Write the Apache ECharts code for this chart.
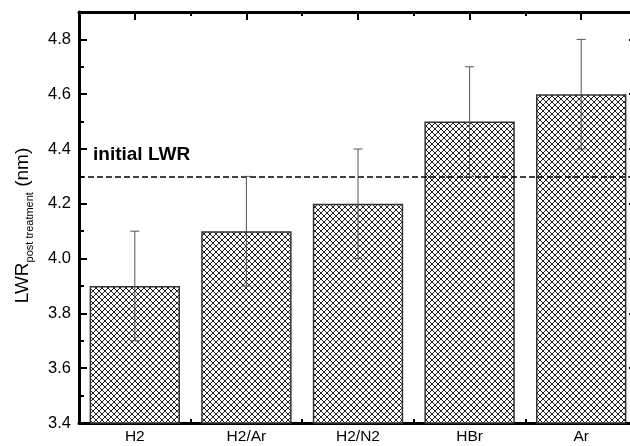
<!DOCTYPE html>
<html>
<head>
<meta charset="utf-8">
<script src="https://cdn.jsdelivr.net/npm/echarts@6/dist/echarts.min.js"></script>
<style>
  html, body { margin: 0; padding: 0; overflow: hidden; background: #fff; }
  #chart { width: 640px; height: 446px; }
</style>
</head>
<body>
<div id="chart"></div>
<script>
const categories = ["H2", "H2/Ar", "H2/N2", "HBr", "Ar"];
const lwrValues = [3.9, 4.1, 4.2, 4.5, 4.6];
const lwrErrors = [0.2, 0.2, 0.2, 0.2, 0.2];
const initialLwr = 4.3;

const font = "Liberation Sans";

// crosshatch fill for the bars
const makeHatch = () => {
  const c = document.createElement("canvas");
  c.width = 6;
  c.height = 6;
  const ctx = c.getContext("2d");
  ctx.fillStyle = "#fff";
  ctx.fillRect(0, 0, 6, 6);
  ctx.strokeStyle = "#222";
  ctx.lineWidth = 1;
  ctx.beginPath();
  ctx.moveTo(-1, -1); ctx.lineTo(7, 7);
  ctx.moveTo(7, -1); ctx.lineTo(-1, 7);
  ctx.stroke();
  return c;
};

const tickAxisX = (pos, major) => ({
  type: "category",
  position: pos,
  data: categories,
  boundaryGap: true,
  axisLine: { show: major, lineStyle: { color: "#000", width: 3 } },
  axisTick: {
    show: true, inside: true, alignWithLabel: major,
    length: major ? 8 : 4,
    lineStyle: { color: "#000", width: 2 }
  },
  axisLabel: {
    show: major && pos === "bottom",
    color: "#000", fontFamily: font, fontSize: 15.5, margin: 6
  },
  splitLine: { show: false }
});

const tickAxisY = (pos, major) => ({
  type: "value",
  position: pos,
  min: 3.4,
  max: 4.9,
  interval: major ? 0.2 : 0.1,
  axisLine: { show: major, lineStyle: { color: "#000", width: 3 } },
  axisTick: { show: true, inside: true, length: major ? 8 : 5, lineStyle: { color: "#000", width: 2 } },
  axisLabel: {
    show: major && pos === "left",
    showMaxLabel: false,
    color: "#000", fontFamily: font, fontSize: 16.5, margin: 8,
    formatter: (v) => v.toFixed(1)
  },
  splitLine: { show: false }
});

const yLeft = tickAxisY("left", true);
yLeft.name = "{a|LWR}{s|post treatment}{a| (nm)}";
yLeft.nameLocation = "middle";
yLeft.nameRotate = 90;
yLeft.nameGap = 44;
yLeft.nameTextStyle = {
  color: "#000",
  fontFamily: font,
  padding: [0, 16, 0, 0],
  rich: {
    a: { fontSize: 19, fontFamily: font, color: "#000" },
    s: { fontSize: 11, fontFamily: font, color: "#000", padding: [14, 0, 0, 0] }
  }
};

const chart = echarts.init(document.querySelector("#chart"));
chart.setOption({
  animation: false,
  backgroundColor: "#fff",
  grid: { left: 79, right: 3, top: 12, bottom: 23 },
  xAxis: [
    tickAxisX("bottom", true),
    tickAxisX("bottom", false),
    tickAxisX("top", true),
    tickAxisX("top", false)
  ],
  yAxis: [
    yLeft,
    tickAxisY("left", false),
    tickAxisY("right", true),
    tickAxisY("right", false)
  ],
  series: [
    {
      type: "bar",
      data: lwrValues,
      barWidth: "81%",
      itemStyle: {
        color: { image: makeHatch(), repeat: "repeat" },
        borderColor: "#333",
        borderWidth: 1.5
      },
      markLine: {
        silent: true,
        symbol: "none",
        lineStyle: { color: "#000", type: [6, 3], width: 1.5 },
        label: {
          show: true,
          position: "insideStartTop",
          formatter: "initial LWR",
          color: "#000",
          fontFamily: font,
          fontSize: 19,
          fontWeight: "bold",
          distance: [14, 12]
        },
        data: [{ yAxis: initialLwr }]
      }
    },
    {
      type: "custom",
      data: lwrValues.map((v, i) => [i, v - lwrErrors[i], v + lwrErrors[i]]),
      encode: { x: 0, y: [1, 2] },
      z: 10,
      renderItem(params, api) {
        const x = api.value(0);
        const lo = api.coord([x, api.value(1)]);
        const hi = api.coord([x, api.value(2)]);
        const w = 4.5;
        const st = { stroke: "#555", lineWidth: 1 };
        return {
          type: "group",
          children: [
            { type: "line", shape: { x1: lo[0], y1: lo[1], x2: hi[0], y2: hi[1] }, style: st },
            { type: "line", shape: { x1: lo[0] - w, y1: lo[1], x2: lo[0] + w, y2: lo[1] }, style: st },
            { type: "line", shape: { x1: hi[0] - w, y1: hi[1], x2: hi[0] + w, y2: hi[1] }, style: st }
          ]
        };
      }
    }
  ]
});
</script>
</body>
</html>
